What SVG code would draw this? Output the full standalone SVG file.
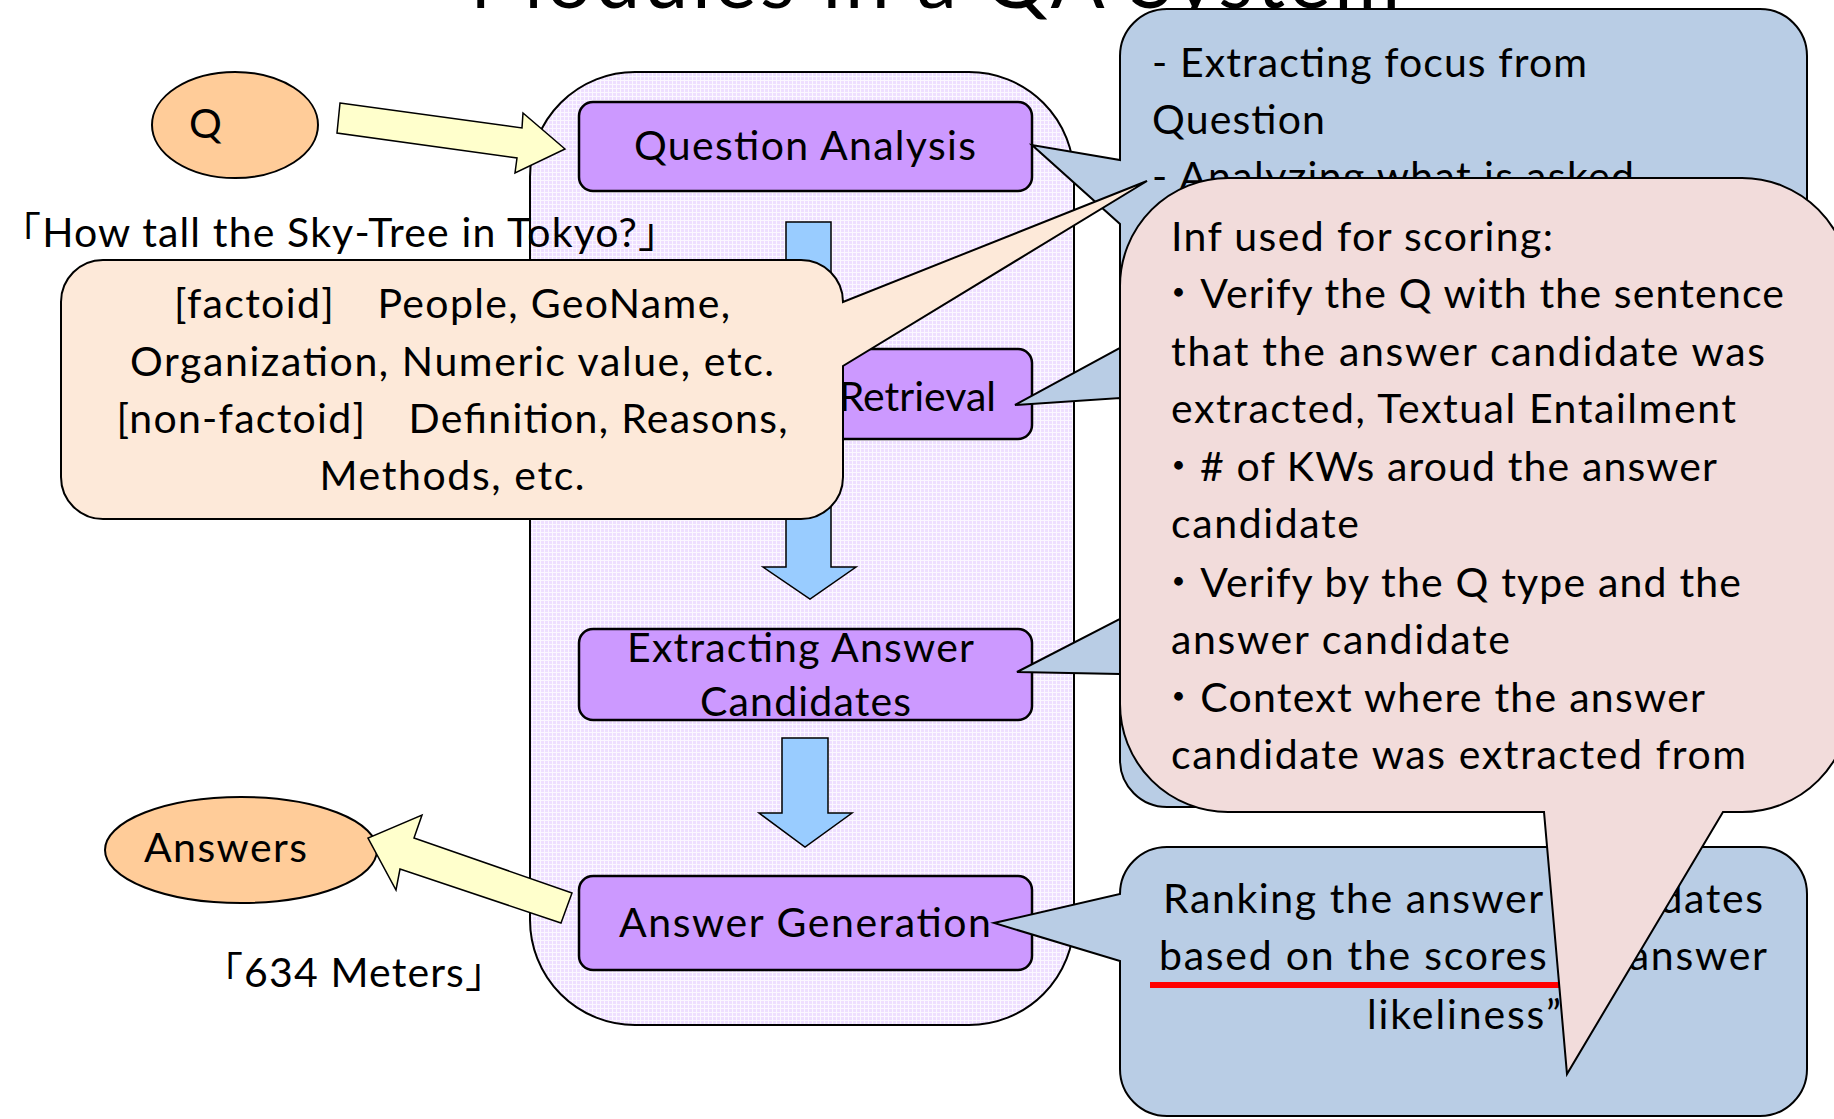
<svg xmlns="http://www.w3.org/2000/svg" width="1834" height="1119" viewBox="0 0 1834 1119">
<defs>
<pattern id="grid" width="4" height="4" patternUnits="userSpaceOnUse">
<rect width="4" height="4" fill="#EEDFFF"/>
<rect width="4" height="1" fill="#FBF7FF"/>
<rect width="1" height="4" fill="#FBF7FF"/>
</pattern>
<style>
text{font-family:Lato,"Noto Sans CJK JP",sans-serif;font-size:41px;fill:#000}
.mid{text-anchor:middle}
.box{fill:#CC99FF;stroke:#000;stroke-width:2.5}
.oval{fill:#FFCC99;stroke:#000;stroke-width:2}
.barrow{fill:#99CCFF;stroke:#000;stroke-width:1.5;stroke-linejoin:miter}
.yarrow{fill:#FFFFCC;stroke:#000;stroke-width:1.5;stroke-linejoin:miter}
.blue{fill:#B9CDE5;stroke:#000;stroke-width:2;stroke-linejoin:miter}
.peach{fill:#FDE9D9;stroke:#000;stroke-width:2;stroke-linejoin:miter}
.pink{fill:#F2DCDB;stroke:#000;stroke-width:2;stroke-linejoin:miter}
</style>
</defs>

<g id="title">
<text x="470" y="8" style="font-size:80px" textLength="930">Modules in a QA System</text>
</g>

<g id="container">
<rect x="530" y="72" width="544" height="953" rx="105" fill="url(#grid)" stroke="#000" stroke-width="2"/>
</g>

<g id="node-q">
<ellipse class="oval" cx="235" cy="125" rx="83" ry="53"/>
<text x="189" y="138">Q</text>
</g>

<g id="node-answers">
<ellipse class="oval" cx="241" cy="850" rx="136" ry="53"/>
<text x="144" y="862" textLength="163">Answers</text>
</g>

<g id="connectors">
<polygon class="barrow" points="786,222 831,222 831,567 856,567 810,599 763,567 786,567"/>
<polygon class="barrow" points="782,738 828,738 828,813 852,813 805,847 759,813 782,813"/>
<polygon class="yarrow" points="340,103 522,128 523,113 565,149 515,173 517,158 337,133"/>
<polygon class="yarrow" points="572,893 414,838 422,815 368,838 396,890 400,869 561,923"/>
</g>

<g id="node-question-analysis">
<rect class="box" x="579" y="102" width="453" height="89" rx="14"/>
<text x="634" y="160" textLength="342">Question Analysis</text>
</g>

<g id="node-retrieval">
<rect class="box" x="579" y="349" width="453" height="90" rx="14"/>
<text x="996" y="411" style="text-anchor:end">Retrieval</text>
</g>

<g id="node-extracting">
<rect class="box" x="579" y="629" width="453" height="91" rx="14"/>
<text x="627" y="662" textLength="347">Extracting Answer</text>
<text x="700" y="716" textLength="211">Candidates</text>
</g>

<g id="node-answer-generation">
<rect class="box" x="579" y="876" width="453" height="94" rx="14"/>
<text x="619" y="937" textLength="372">Answer Generation</text>
</g>

<g id="label-question">
<text x="0" y="247" textLength="679">「How tall the Sky-Tree in Tokyo?」</text>
</g>

<g id="label-answer">
<text x="202" y="987" textLength="304">「634 Meters」</text>
</g>

<g id="callout-qa">
<path class="blue" d="M1167,9 H1760 A47,47 0 0 1 1807,56 V760 A47,47 0 0 1 1760,807 H1167 A47,47 0 0 1 1120,760 V674 L1017,672 L1120,619 V398 L1015,405 L1120,348 V224 L1032,145 L1120,160 V56 A47,47 0 0 1 1167,9 Z"/>
<text x="1152" y="77" textLength="435">- Extracting focus from</text>
<text x="1152" y="134" textLength="173">Question</text>
<text x="1152" y="191" textLength="482">- Analyzing what is asked</text>
</g>

<g id="callout-qtype">
<path class="peach" d="M103,260 H801 A42,42 0 0 1 843,302 L1147,181 L843,366 V477 A42,42 0 0 1 801,519 H103 A42,42 0 0 1 61,477 V302 A42,42 0 0 1 103,260 Z"/>
<text class="mid" x="452" y="318" textLength="556">[factoid]　People, GeoName,</text>
<text class="mid" x="452" y="376" textLength="644">Organization, Numeric value, etc.</text>
<text class="mid" x="452" y="433" textLength="671">[non-factoid]　Definition, Reasons,</text>
<text class="mid" x="452" y="490" textLength="265">Methods, etc.</text>
</g>

<g id="callout-ranking">
<path class="blue" d="M1167,847 H1760 A47,47 0 0 1 1807,894 V1069 A47,47 0 0 1 1760,1116 H1167 A47,47 0 0 1 1120,1069 V961 L994,923 L1120,894 A47,47 0 0 1 1167,847 Z"/>
<text class="mid" x="1463" y="913" textLength="600">Ranking the answer candidates</text>
<text class="mid" x="1463" y="970" textLength="608">based on the scores of “answer</text>
<text class="mid" x="1464" y="1029" textLength="194">likeliness”</text>
<rect x="1150" y="982" width="430" height="6" fill="#FF0000"/>
</g>

<g id="callout-scoring">
<path class="pink" d="M1228,178 H1742 A108,108 0 0 1 1850,286 V704 A108,108 0 0 1 1742,812 H1723 L1567,1074 L1544,812 H1228 A108,108 0 0 1 1120,704 V286 A108,108 0 0 1 1228,178 Z"/>
<text x="1171" y="251" textLength="382">Inf used for scoring:</text>
<text x="1158" y="308" textLength="626">・Verify the Q with the sentence</text>
<text x="1171" y="366" textLength="594">that the answer candidate was</text>
<text x="1171" y="423" textLength="565">extracted, Textual Entailment</text>
<text x="1158" y="481" textLength="559">・# of KWs aroud the answer</text>
<text x="1171" y="538" textLength="188">candidate</text>
<text x="1158" y="597" textLength="583">・Verify by the Q type and the</text>
<text x="1171" y="654" textLength="339">answer candidate</text>
<text x="1158" y="712" textLength="547">・Context where the answer</text>
<text x="1171" y="769" textLength="575">candidate was extracted from</text>
</g>
</svg>
